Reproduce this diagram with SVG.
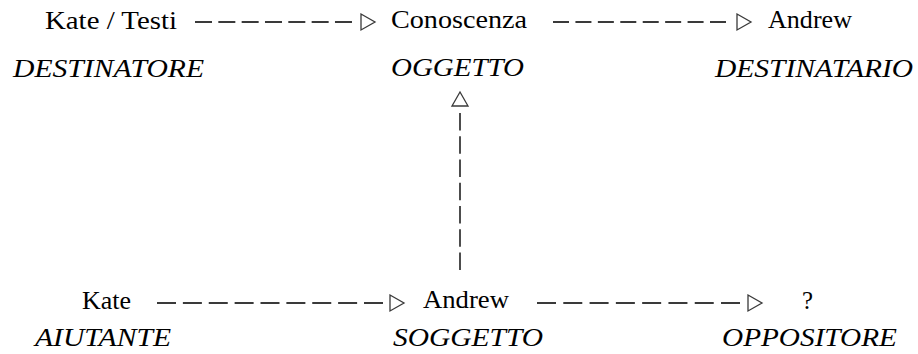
<svg xmlns="http://www.w3.org/2000/svg" width="918" height="354" viewBox="0 0 918 354">
  <style>
    .name { font-family: "Liberation Serif", "Times New Roman", serif; font-size: 26px; fill: #000; }
    .role { font-family: "Liberation Serif", "Times New Roman", serif; font-size: 26px; font-style: italic; fill: #000; }
    .dash { stroke: #3a3a3a; stroke-width: 1.8; fill: none; }
    .head { stroke: #3a3a3a; stroke-width: 1.3; fill: #fff; stroke-linejoin: miter; }
  </style>
  <defs>
    <!-- open triangle head, tip at the origin, pointing right -->
    <polygon id="tri" class="head" points="-14,-8 0,0 -14,8"/>
  </defs>
  <rect width="918" height="354" fill="#fff"/>

  <g id="connectors">
    <line class="dash" x1="195" y1="22" x2="352" y2="22" stroke-dasharray="17 6.33"/>
    <use href="#tri" transform="translate(375,22)"/>
    <line class="dash" x1="553" y1="22" x2="726" y2="22" stroke-dasharray="16 6.43"/>
    <use href="#tri" transform="translate(751,22)"/>
    <line class="dash" x1="157" y1="303" x2="383" y2="303" stroke-dasharray="19 6.875"/>
    <use href="#tri" transform="translate(404,303)"/>
    <line class="dash" x1="537" y1="303" x2="740" y2="303" stroke-dasharray="19 7.29"/>
    <use href="#tri" transform="translate(762,303)"/>
    <line class="dash" x1="460" y1="270" x2="460" y2="113" stroke-dasharray="17.5 5.75"/>
    <use href="#tri" transform="translate(460,92) rotate(-90)"/>
  </g>

  <g id="destinatore">
    <text class="name" x="45" y="29" textLength="132" lengthAdjust="spacingAndGlyphs">Kate / Testi</text>
    <text class="role" x="13" y="77" textLength="191" lengthAdjust="spacingAndGlyphs">DESTINATORE</text>
  </g>
  <g id="oggetto">
    <text class="name" x="391" y="28" textLength="136" lengthAdjust="spacingAndGlyphs">Conoscenza</text>
    <text class="role" x="391" y="76" textLength="133" lengthAdjust="spacingAndGlyphs">OGGETTO</text>
  </g>
  <g id="destinatario">
    <text class="name" x="768" y="28" textLength="84" lengthAdjust="spacingAndGlyphs">Andrew</text>
    <text class="role" x="715" y="77" textLength="198" lengthAdjust="spacingAndGlyphs">DESTINATARIO</text>
  </g>
  <g id="aiutante">
    <text class="name" x="82" y="309" textLength="49" lengthAdjust="spacingAndGlyphs">Kate</text>
    <text class="role" x="35" y="346" textLength="136" lengthAdjust="spacingAndGlyphs">AIUTANTE</text>
  </g>
  <g id="soggetto">
    <text class="name" x="423" y="308" textLength="86" lengthAdjust="spacingAndGlyphs">Andrew</text>
    <text class="role" x="393" y="346" textLength="150" lengthAdjust="spacingAndGlyphs">SOGGETTO</text>
  </g>
  <g id="oppositore">
    <text class="name" x="802" y="309" textLength="11" lengthAdjust="spacingAndGlyphs">?</text>
    <text class="role" x="722" y="346" textLength="175" lengthAdjust="spacingAndGlyphs">OPPOSITORE</text>
  </g>
</svg>
